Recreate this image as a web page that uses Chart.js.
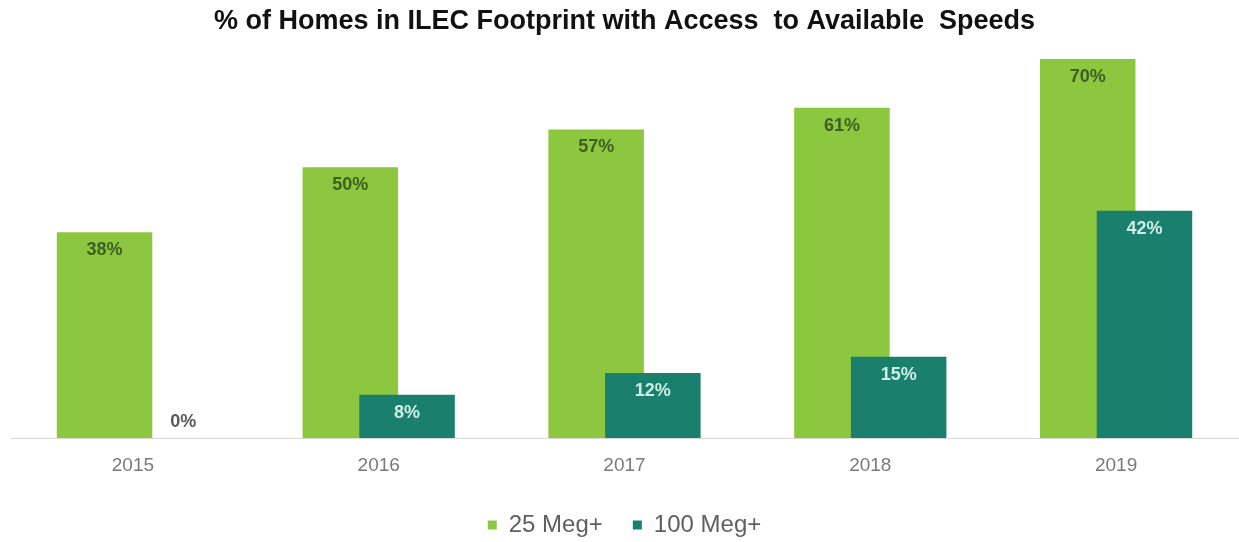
<!DOCTYPE html>
<html>
<head>
<meta charset="utf-8">
<script src="https://cdn.jsdelivr.net/npm/chart.js@4.4.1/dist/chart.umd.min.js"></script>
<style>
  html, body { margin: 0; padding: 0; background: #fff; overflow: hidden; }
  #wrap { width: 1239px; height: 542px; }
</style>
</head>
<body>
<div id="wrap"><canvas id="speedChart" width="1239" height="542"></canvas></div>
<script>
const years = ["2015", "2016", "2017", "2018", "2019"];
const meg25 = [38, 50, 57, 61, 70];
const meg100 = [0, 8, 12, 15, 42];
const seriesNames = ["25 Meg+", "100 Meg+"];
const barColors = ["#8dc63f", "#1b7f6e"];
const labelColors = ["#3e5f22", "#cdeee6"];

// draw green first so the teal bars sit on top, then the value labels
const overlapBars = {
  id: "overlapBars",
  beforeDatasetsDraw(chart) {
    const ctx = chart.ctx;
    const area = chart.chartArea;
    ctx.save();
    ctx.beginPath();
    ctx.rect(area.left, area.top - 5, area.right - area.left, area.bottom - area.top + 5);
    ctx.clip();
    chart.data.datasets.forEach((ds, i) => chart.getDatasetMeta(i).controller.draw());
    ctx.restore();

    chart.data.datasets.forEach((ds, i) => {
      const meta = chart.getDatasetMeta(i);
      meta.data.forEach((bar, j) => {
        const v = ds.data[j];
        ctx.save();
        ctx.font = 'bold 18px "Liberation Sans", Arial, sans-serif';
        ctx.textAlign = "center";
        ctx.textBaseline = "middle";
        if (v === 0) {
          ctx.fillStyle = "#595959";
          ctx.fillText(v + "%", bar.x + 22, bar.y - 16);
        } else {
          ctx.fillStyle = labelColors[i];
          ctx.fillText(v + "%", bar.x, bar.y + 18);
        }
        ctx.restore();
      });
    });
    return false;
  },
};

const ctx = document.getElementById("speedChart").getContext("2d");
const speedChart = new Chart(ctx, {
  type: "bar",
  data: {
    labels: years,
    datasets: [
      {
        label: seriesNames[0],
        data: meg25,
        backgroundColor: barColors[0],
      },
      {
        label: seriesNames[1],
        data: meg100,
        backgroundColor: barColors[1],
      },
    ],
  },
  options: {
    responsive: false,
    animation: false,
    categoryPercentage: 0.4615,
    barPercentage: 1.684,
    layout: {
      padding: { left: 10, right: 0, top: 0, bottom: -5 },
    },
    scales: {
      x: {
        grid: { display: false, drawTicks: false },
        border: { display: true, color: "#d9d9d9", width: 1 },
        ticks: {
          padding: 16,
          color: "#7a7a7a",
          font: { family: '"Liberation Sans", Arial, sans-serif', size: 19 },
        },
        afterFit(scale) {
          scale.height = 45;
        },
      },
      y: {
        display: false,
        min: 0,
        max: 74,
      },
    },
    plugins: {
      title: {
        display: true,
        text: "% of Homes in ILEC Footprint with Access  to Available  Speeds",
        color: "#111",
        font: { family: '"Liberation Sans", Arial, sans-serif', size: 27, weight: "bold" },
        padding: { top: 5, bottom: 0 },
      },
      legend: {
        position: "bottom",
        labels: {
          boxWidth: 9,
          boxHeight: 9,
          padding: 30,
          color: "#5f5f5f",
          font: { family: '"Liberation Sans", Arial, sans-serif', size: 24 },
        },
      },
      tooltip: { enabled: false },
    },
  },
  plugins: [overlapBars],
});
</script>
</body>
</html>
